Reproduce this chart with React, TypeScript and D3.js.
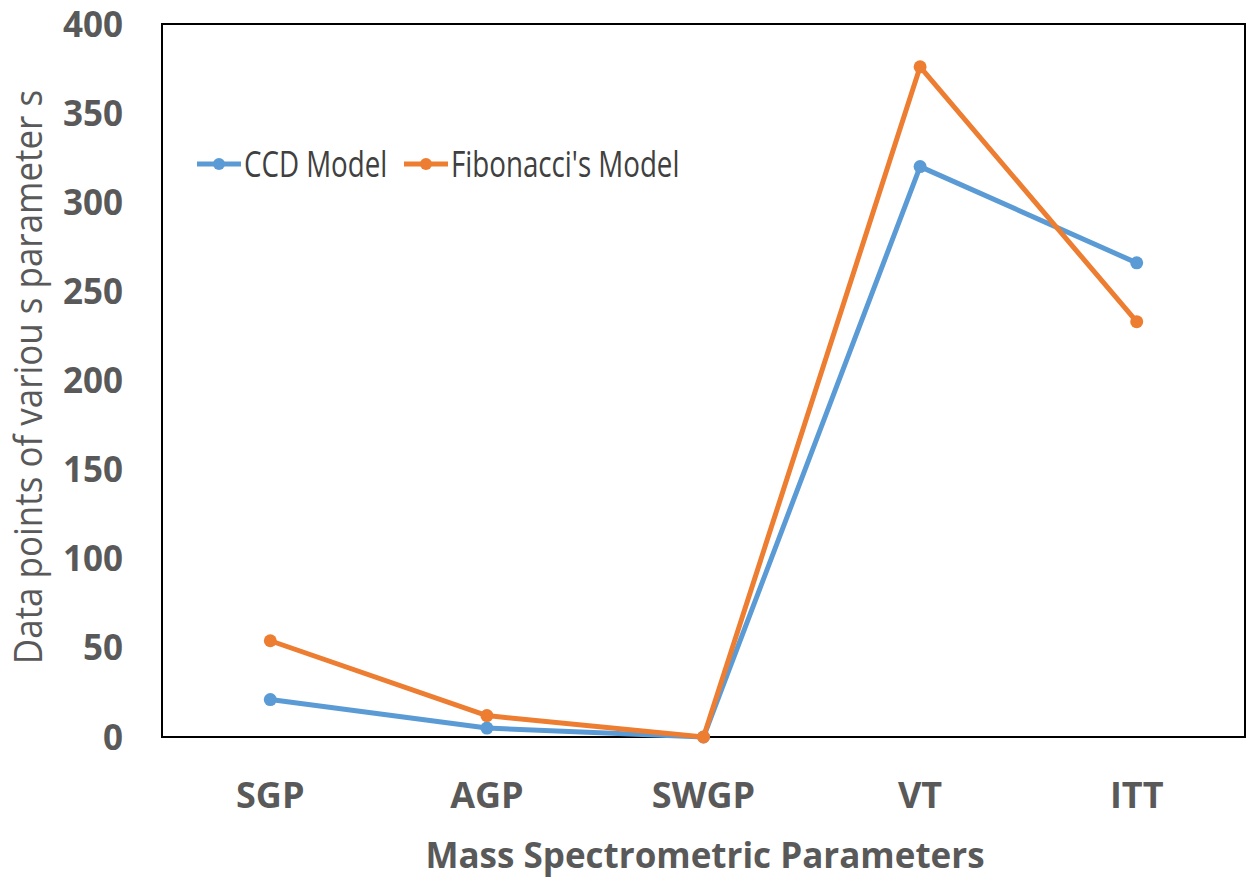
import { useEffect, useRef } from 'react';
import * as d3 from 'd3';

const categories = ['SGP', 'AGP', 'SWGP', 'VT', 'ITT'];
const ccdValues = [21, 5, 0, 320, 266];
const fibValues = [54, 12, 0, 376, 233];
const yTicks = [0, 50, 100, 150, 200, 250, 300, 350, 400];
const seriesNames = ['CCD Model', "Fibonacci's Model"];
const seriesColors = ['#5B9BD5', '#ED7D31'];

const App = () => {
  const ref = useRef<SVGSVGElement>(null);

  useEffect(() => {
    if (!ref.current) return;
    const svg = d3.select(ref.current);
    svg.selectAll('*').remove();

    const W = 1256, H = 882;
    const margin = { top: 24, right: 11, bottom: 145, left: 162 };
    const font = "'Open Sans', 'DejaVu Sans', sans-serif";

    const x = d3.scaleBand().domain(categories).range([margin.left, W - margin.right]);
    const y = d3.scaleLinear().domain([0, 400]).range([H - margin.bottom, margin.top]);

    svg.append('rect').attr('width', W).attr('height', H).attr('fill', 'white');

    // plot frame
    svg.append('rect')
      .attr('x', margin.left)
      .attr('y', margin.top)
      .attr('width', W - margin.right - margin.left)
      .attr('height', H - margin.bottom - margin.top)
      .attr('fill', 'none')
      .attr('stroke', '#000')
      .attr('stroke-width', 2);

    // y tick labels
    svg.append('g')
      .selectAll('text')
      .data(yTicks)
      .enter()
      .append('text')
      .attr('x', 123)
      .attr('y', d => y(d))
      .attr('dy', '0.36em')
      .attr('text-anchor', 'end')
      .style('font-family', font)
      .style('font-size', '35px')
      .style('font-weight', 'bold')
      .style('fill', '#595959')
      .text(d => d);

    // x tick labels
    svg.append('g')
      .selectAll('text')
      .data(categories)
      .enter()
      .append('text')
      .attr('x', d => x(d)! + x.bandwidth() / 2)
      .attr('y', 808)
      .attr('text-anchor', 'middle')
      .style('font-family', font)
      .style('font-size', '36px')
      .style('font-weight', 'bold')
      .style('fill', '#595959')
      .text(d => d);

    // axis titles
    svg.append('text')
      .attr('x', 705)
      .attr('y', 868)
      .attr('text-anchor', 'middle')
      .style('font-family', font)
      .style('font-size', '35px')
      .style('font-weight', 'bold')
      .style('fill', '#595959')
      .text('Mass Spectrometric Parameters');

    svg.append('text')
      .attr('transform', `translate(42, 377) rotate(-90) scale(0.92, 1)`)
      .attr('text-anchor', 'middle')
      .style('font-family', font)
      .style('font-size', '38px')
      .style('fill', '#595959')
      .text('Data points of variou s parameter s');

    const line = d3.line<number>()
      .x((d, i) => x(categories[i])! + x.bandwidth() / 2)
      .y(d => y(d));

    [ccdValues, fibValues].forEach((vals, si) => {
      const g = svg.append('g');
      g.append('path')
        .datum(vals)
        .attr('d', line)
        .attr('fill', 'none')
        .attr('stroke', seriesColors[si])
        .attr('stroke-width', 5)
        .attr('stroke-linejoin', 'round');
      g.selectAll('circle')
        .data(vals)
        .enter()
        .append('circle')
        .attr('cx', (d, i) => x(categories[i])! + x.bandwidth() / 2)
        .attr('cy', d => y(d))
        .attr('r', 6.5)
        .attr('fill', seriesColors[si]);
    });

    // legend
    const legendX = [197, 404];
    seriesNames.forEach((name, i) => {
      const lg = svg.append('g').attr('transform', `translate(${legendX[i]}, 164)`);
      lg.append('line')
        .attr('x1', 0).attr('x2', 44)
        .attr('stroke', seriesColors[i])
        .attr('stroke-width', 5);
      lg.append('circle').attr('cx', 22).attr('r', 6).attr('fill', seriesColors[i]);
      lg.append('text')
        .attr('transform', 'translate(47, 0) scale(0.77, 1)')
        .attr('dy', '0.36em')
        .style('font-family', font)
        .style('font-size', '36px')
        .style('fill', '#404040')
        .text(name);
    });
  }, []);

  return (
    <svg ref={ref} width={1256} height={882} style={{ display: 'block', position: 'absolute', left: 0, top: 0 }} />
  );
};

export default App;
